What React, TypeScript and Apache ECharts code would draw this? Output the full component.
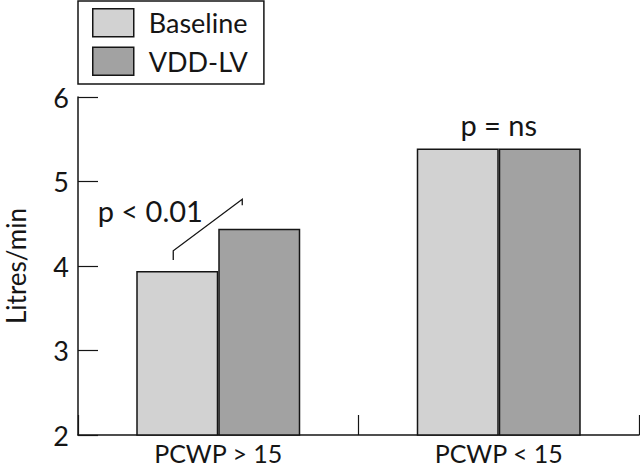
import React, { useEffect, useRef } from "react";
import * as echarts from "echarts";

const categories = ["PCWP > 15", "PCWP < 15"];
const baselineValues = [3.94, 5.39];
const vddValues = [4.44, 5.39];
const seriesNames = ["Baseline", "VDD-LV"];
const pTexts = ["p < 0.01", "p = ns"];
const pTextLevels = [4.66, 5.67];
// bracket levels for group 0: left foot, left top, right top, right foot
const bracketLevels = [4.07, 4.18, 4.79, 4.72];

const FONT = "Lato, 'DejaVu Sans', sans-serif";
const INK = "#151515";

export default function App() {
  const ref = useRef<HTMLDivElement>(null);
  useEffect(() => {
    if (!ref.current) return;
    const chart = echarts.init(ref.current, null, { renderer: "svg" });
    const textOffsets = [-68, 0];
    chart.setOption({
      animation: false,
      backgroundColor: "#ffffff",
      textStyle: { fontFamily: FONT, color: INK },
      grid: { left: 78, right: 1, top: 97, bottom: 31, outerBoundsMode: "none" },
      legend: {
        data: seriesNames.map((n) => ({ name: n, icon: "rect" })),
        orient: "vertical",
        left: 78,
        top: 1,
        selectedMode: false,
        borderColor: INK,
        borderWidth: 1.5,
        padding: [7, 16, 8, 14],
        itemWidth: 41,
        itemHeight: 28,
        itemGap: 9,
        itemStyle: { borderColor: INK, borderWidth: 1.5 },
        textStyle: { fontSize: 27, color: INK, fontFamily: FONT, padding: [0, 0, 0, 10] },
      },
      xAxis: {
        type: "category",
        data: categories,
        boundaryGap: true,
        axisLine: { show: true, lineStyle: { color: INK, width: 1.5 } },
        axisTick: { show: true, inside: true, length: 20, interval: 0, lineStyle: { color: INK, width: 1.2 } },
        axisLabel: { fontSize: 25, color: INK, margin: 5, fontFamily: FONT },
        splitLine: { show: false },
      },
      yAxis: {
        type: "value",
        min: 2,
        max: 6,
        interval: 1,
        name: "Litres/min",
        nameLocation: "middle",
        nameRotate: 90,
        nameGap: 49,
        nameTextStyle: { fontSize: 26, color: INK, fontFamily: FONT },
        axisLine: { show: true, lineStyle: { color: INK, width: 1.5 } },
        axisTick: { show: true, inside: true, length: 20, lineStyle: { color: INK, width: 1.2 } },
        axisLabel: { fontSize: 27, color: INK, margin: 9, fontFamily: FONT },
        splitLine: { show: false },
      },
      series: [
        {
          name: seriesNames[0],
          type: "bar",
          data: baselineValues,
          barWidth: 82,
          barGap: "0%",
          itemStyle: { color: "#d2d2d2", borderColor: INK, borderWidth: 1.5 },
        },
        {
          name: seriesNames[1],
          type: "bar",
          data: vddValues,
          barWidth: 82,
          barGap: "0%",
          itemStyle: { color: "#a2a2a2", borderColor: INK, borderWidth: 1.5 },
        },
        {
          type: "custom",
          silent: true,
          z: 10,
          data: categories.map((_, i) => [i]),
          encode: { x: 0 },
          renderItem: (params: any, api: any) => {
            const i = params.dataIndex;
            const cat = api.value(0);
            const t = api.coord([cat, pTextLevels[i]]);
            const children: any[] = [
              {
                type: "text",
                x: t[0] + textOffsets[i],
                y: t[1],
                style: {
                  text: pTexts[i],
                  fontSize: 29,
                  fontFamily: FONT,
                  fill: INK,
                  align: "center",
                  verticalAlign: "middle",
                },
              },
            ];
            if (i === 0) {
              const xs = [-45, -45, 24, 24];
              const pts = bracketLevels.map((v, k) => {
                const p = api.coord([cat, v]);
                return [p[0] + xs[k], p[1]];
              });
              children.push({
                type: "polyline",
                shape: { points: pts },
                style: { stroke: INK, lineWidth: 1.3, fill: null },
              });
            }
            return { type: "group", children };
          },
        },
      ],
    });
    return () => chart.dispose();
  }, []);
  return (
    <div
      ref={ref}
      style={{ position: "fixed", left: 0, top: 0, width: 640, height: 466, background: "#fff" }}
    />
  );
}
